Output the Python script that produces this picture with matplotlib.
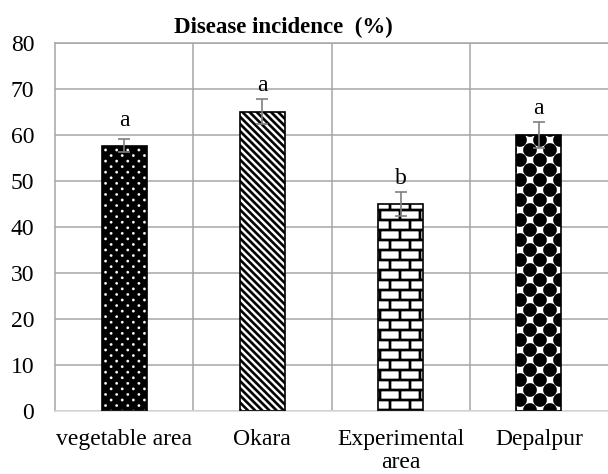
import numpy as np
import matplotlib
matplotlib.use('Agg')
import matplotlib.pyplot as plt
import matplotlib.hatch as mhatch
from matplotlib.path import Path

# ---------------- data ----------------
categories = ['vegetable area', 'Okara', 'Experimental\narea', 'Depalpur']
incidence = [57.7, 65.1, 45.1, 60.0]
errors = [1.4, 2.8, 2.6, 2.8]
letters = ['a', 'a', 'b', 'a']
y_ticks = [0, 10, 20, 30, 40, 50, 60, 70, 80]
title = 'Disease incidence  (%)'

# ---------------- custom hatch patterns ----------------
plt.rcParams['hatch.linewidth'] = 0.1
plt.rcParams['font.family'] = ['Liberation Serif', 'DejaVu Serif']


def _poly_path(polys):
    verts, codes = [], []
    for p in polys:
        p = np.asarray(p, float)
        verts.extend(p.tolist())
        verts.append(p[0].tolist())
        codes.extend([Path.MOVETO] + [Path.LINETO] * (len(p) - 1) + [Path.CLOSEPOLY])
    return verts, codes


def _circles(nx, ny, r):
    circ = Path.unit_circle()
    verts, codes = [], []
    for j in range(-1, ny + 2):
        y = j / ny
        shift = 0.5 / nx if j % 2 else 0.0
        for i in range(-1, nx + 2):
            cx = i / nx + shift
            verts.extend((circ.vertices * r + [cx, y]).tolist())
            codes.extend(circ.codes.tolist())
    return Path(np.array(verts), np.array(codes, dtype=Path.code_type))


def _stripes(n, frac):
    polys = []
    w = frac / n
    for k in range(-n - 1, 2 * n + 2):
        c = k / n
        polys.append([(-0.5, c + 0.5), (1.5, c - 1.5), (1.5, c + w - 1.5), (-0.5, c + w + 0.5)])
    v, c = _poly_path(polys)
    return Path(np.array(v), np.array(c, dtype=Path.code_type))


def _bricks(nrows, ncols, t):
    polys = []
    for j in range(-1, nrows + 2):
        y = j / nrows
        polys.append([(-0.2, y - t / 2), (1.2, y - t / 2), (1.2, y + t / 2), (-0.2, y + t / 2)])
    for j in range(-1, nrows + 1):
        y0 = j / nrows
        shift = 0.5 / ncols if j % 2 else 0.0
        for i in range(-1, ncols + 2):
            xx = i / ncols + shift
            polys.append([(xx - t / 2, y0), (xx + t / 2, y0), (xx + t / 2, y0 + 1 / nrows), (xx - t / 2, y0 + 1 / nrows)])
    v, c = _poly_path(polys)
    return Path(np.array(v), np.array(c, dtype=Path.code_type))


_custom = {
    '.': _circles(9, 18, 0.013),
    '\\': _stripes(14, 0.5),
    '+': _bricks(10, 5, 0.025),
    'O': _circles(5, 10, 0.068),
}
_orig_get_path = mhatch.get_path


def _get_path(hatchpattern, density=6):
    if hatchpattern in _custom:
        return _custom[hatchpattern]
    return _orig_get_path(hatchpattern, density)


mhatch.get_path = _get_path

# ---------------- figure ----------------
fig = plt.figure(figsize=(6.08, 4.74), dpi=100)
ax = fig.add_axes([55 / 608, (474 - 411) / 474, 553 / 608, (411 - 43) / 474])

x = np.arange(len(categories))
bar_w = 0.325
hatches = ['.', '\\', '+', 'O']
faces = ['black', 'white', 'white', 'white']
hatch_cols = ['white', 'black', 'black', 'black']

for xi, v, h, fc, hc in zip(x, incidence, hatches, faces, hatch_cols):
    ax.bar(xi, v, width=bar_w, color=fc, edgecolor=hc, hatch=h, linewidth=0, zorder=2)
ax.bar(x, incidence, width=bar_w, fill=False, edgecolor='black', linewidth=1.2, zorder=3)

ax.errorbar(x, incidence, yerr=errors, fmt='none', ecolor='#7f7f7f',
            elinewidth=1.2, capsize=4.2, capthick=1.2, zorder=4)

offsets = [6, 2, 2, 2]
for xi, v, e, lab, off in zip(x, incidence, errors, letters, offsets):
    ax.annotate(lab, (xi, v + e), xytext=(0, off), textcoords='offset points',
                ha='center', va='bottom', fontsize=17)

ax.set_xlim(-0.5, len(categories) - 0.5)
ax.set_ylim(0, 80)
ax.set_yticks(y_ticks)
ax.set_xticks(x)
ax.set_xticklabels(categories, fontsize=17, linespacing=1.12)
ax.tick_params(axis='y', length=0, pad=15, labelsize=17)
ax.tick_params(axis='x', length=0, pad=13)
ax.set_xticks(x[:-1] + 0.5, minor=True)
ax.tick_params(which='minor', length=0)

grid_c = '#a6a6a6'
ax.set_axisbelow(True)
ax.yaxis.grid(True, color=grid_c, linewidth=1.1, zorder=0)
ax.xaxis.grid(True, which='minor', color=grid_c, linewidth=1.1, zorder=0)
ax.xaxis.grid(False, which='major')
ax.spines['left'].set_color(grid_c)
ax.spines['left'].set_linewidth(1.1)
ax.spines['top'].set_color(grid_c)
ax.spines['top'].set_linewidth(1.1)
ax.spines['right'].set_visible(False)
ax.spines['bottom'].set_color('#d9d9d9')
ax.spines['bottom'].set_linewidth(1.1)

fig.text(283 / 608, 1 - 27 / 474, title, ha='center', va='center',
         fontsize=16.5, fontweight='bold')

fig.savefig('out.png', dpi=100)
